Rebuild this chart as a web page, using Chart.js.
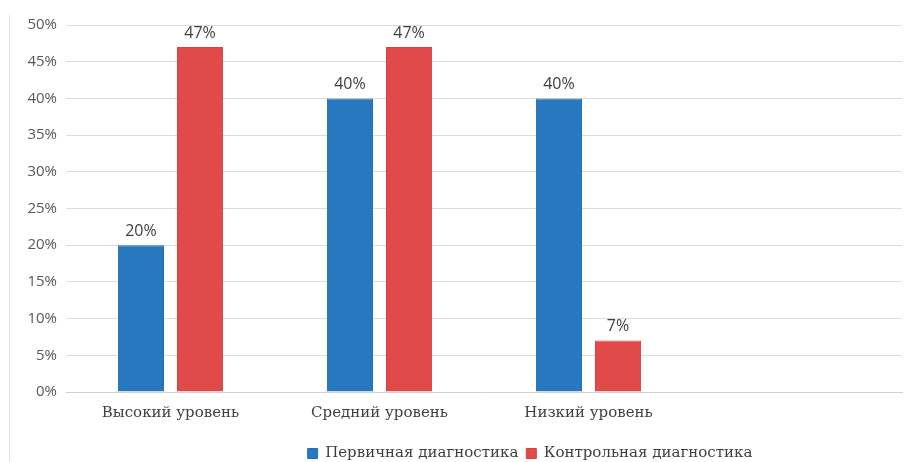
<!DOCTYPE html>
<html>
<head>
<meta charset="utf-8">
<script src="https://cdn.jsdelivr.net/npm/chart.js@4"></script>
<style>
  html, body { margin: 0; padding: 0; background: #fff; }
  #wrap { position: relative; width: 910px; height: 462px; }
  #frame { position: absolute; left: 9px; top: 15px; width: 0; height: 447px; border-left: 1px solid #e2e2e2; }
</style>
</head>
<body>
<div id="wrap">
  <div id="frame"></div>
  <canvas id="chart" width="910" height="462"></canvas>
</div>
<script>
const categories = ["Высокий уровень", "Средний уровень", "Низкий уровень", ""];
const primaryValues = [20, 40, 40, null];
const controlValues = [47, 47, 7, null];
const seriesNames = ["Первичная диагностика", "Контрольная диагностика"];

const sans = "'Open Sans', sans-serif";
const serif = "'DejaVu Serif', serif";

// value labels above each bar
const barLabels = {
  id: "barLabels",
  afterDatasetsDraw(chart) {
    const ctx = chart.ctx;
    ctx.save();
    ctx.font = "16px " + sans;
    ctx.fillStyle = "#404040";
    ctx.textAlign = "center";
    ctx.textBaseline = "bottom";
    chart.data.datasets.forEach((ds, i) => {
      chart.getDatasetMeta(i).data.forEach((bar, j) => {
        if (ds.data[j] == null) return;
        ctx.fillText(ds.data[j] + "%", bar.x, bar.y - 6);
      });
    });
    ctx.restore();
  }
};

// legend in the picture sits right of centre and a bit lower
const legendShift = {
  id: "legendShift",
  afterLayout(chart) {
    const lg = chart.legend;
    lg.left += 79;
    lg.right += 79;
    lg.top += 9;
    lg.bottom += 9;
  }
};

new Chart(document.getElementById("chart"), {
  type: "bar",
  data: {
    labels: categories,
    datasets: [
      {
        label: seriesNames[0],
        data: primaryValues,
        backgroundColor: "#2878bf",
        borderColor: "#2470b3",
        borderWidth: 1,
        categoryPercentage: 0.565,
        barPercentage: 0.78
      },
      {
        label: seriesNames[1],
        data: controlValues,
        backgroundColor: "#e04a48",
        borderColor: "#d44441",
        borderWidth: 1,
        categoryPercentage: 0.565,
        barPercentage: 0.78
      }
    ]
  },
  options: {
    responsive: false,
    animation: false,
    layout: { padding: { top: 25, right: 8, left: 0, bottom: 0 } },
    plugins: {
      legend: {
        position: "bottom",
        labels: {
          boxWidth: 10,
          boxHeight: 10,
          padding: 8,
          color: "#404040",
          font: { family: serif, size: 15 }
        }
      },
      tooltip: { enabled: false }
    },
    scales: {
      x: {
        grid: { display: false },
        border: { color: "#d0d0d0" },
        ticks: {
          color: "#404040",
          padding: 4,
          font: { family: serif, size: 15 }
        },
        afterFit(s) { s.height = 462 - 392 - s.chart.legend.height; }
      },
      y: {
        min: 0,
        max: 50,
        ticks: {
          stepSize: 5,
          padding: 9,
          color: "#595959",
          font: { family: sans, size: 15 },
          callback: v => v + "%"
        },
        grid: { color: "#dcdcdc", drawTicks: false },
        border: { display: false },
        afterFit(s) { s.width = 66; }
      }
    }
  },
  plugins: [barLabels, legendShift]
});
</script>
</body>
</html>
